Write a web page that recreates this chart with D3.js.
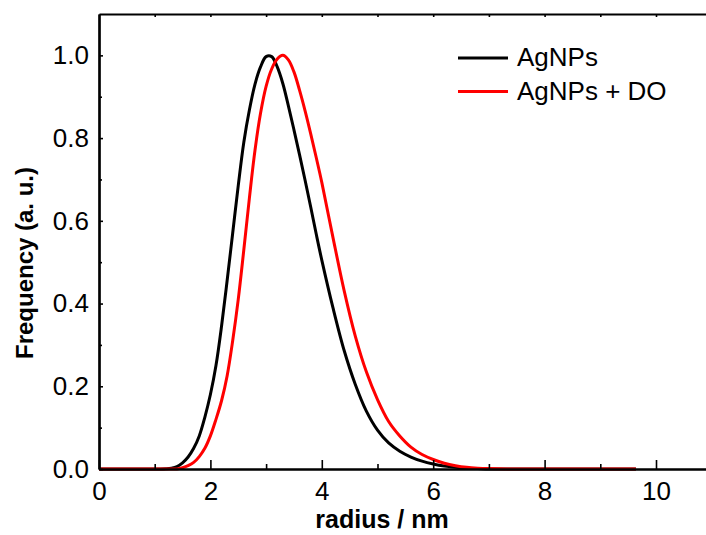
<!DOCTYPE html>
<html>
<head>
<meta charset="utf-8">
<script src="https://cdn.jsdelivr.net/npm/d3@7"></script>
<style>
  body { margin: 0; background: #fff; }
  svg text { font-family: "Liberation Sans", Arial, sans-serif; }
</style>
</head>
<body>
<div id="chart"></div>
<script>
// radius grid (nm)
const radius = [0, 0.5, 1.0, 1.1, 1.2, 1.3, 1.4, 1.5, 1.6, 1.7, 1.8, 1.9, 2.0, 2.1, 2.2, 2.3, 2.4, 2.5,
    2.6, 2.7, 2.8, 2.9, 3.0, 3.1, 3.2, 3.3, 3.4, 3.5, 3.6, 3.7, 3.8, 3.9, 4.0, 4.2, 4.4, 4.6, 4.8,
    5.0, 5.2, 5.4, 5.6, 5.8, 6.0, 6.2, 6.4, 6.6, 6.8, 7.0, 7.5, 8.0, 9.0, 9.64];

const agnps = [0, 0, 0, 0, 0.0005, 0.002, 0.006, 0.015, 0.029, 0.05, 0.08, 0.125, 0.18, 0.25, 0.345, 0.455, 0.57, 0.685,
    0.79, 0.868, 0.93, 0.972, 0.997, 0.997, 0.972, 0.932, 0.878, 0.82, 0.76, 0.698, 0.634, 0.568, 0.505, 0.39, 0.287, 0.205, 0.14,
    0.094, 0.063, 0.043, 0.029, 0.019, 0.012, 0.007, 0.004, 0.002, 0.001, 0, 0, 0, 0, 0];

const agnpsDo = [0, 0, 0, 0, 0, 0, 0, 0.003, 0.008, 0.016, 0.03, 0.05, 0.08, 0.12, 0.165, 0.225, 0.31, 0.41,
    0.53, 0.655, 0.77, 0.86, 0.925, 0.967, 0.991, 1.0, 0.989, 0.96, 0.916, 0.866, 0.811, 0.753, 0.693, 0.56, 0.432, 0.322, 0.235,
    0.168, 0.115, 0.08, 0.053, 0.035, 0.023, 0.014, 0.008, 0.004, 0.002, 0.001, 0, 0, 0, 0];

const xTicks = [0, 2, 4, 6, 8, 10];
const yTicks = [0.0, 0.2, 0.4, 0.6, 0.8, 1.0];
const seriesNames = ['AgNPs', 'AgNPs + DO'];
const seriesColors = ['#000000', '#ff0000'];

const width = 706, height = 535;
const margin = { left: 99, top: 14, bottom: 66 };

const svg = d3.select('#chart').append('svg')
    .attr('width', width)
    .attr('height', height);

const x = d3.scaleLinear().domain([0, 11]).range([margin.left, margin.left + 11 * 55.7]);
const y = d3.scaleLinear().domain([0, 1.1]).range([height - margin.bottom, margin.top]);

// curves
const line = d3.line()
    .x(d => x(d[0]))
    .y(d => y(d[1]))
    .curve(d3.curveCatmullRom.alpha(0.5));

[agnps, agnpsDo].forEach((vals, i) => {
    svg.append('path')
        .datum(radius.map((r, j) => [r, vals[j]]))
        .attr('fill', 'none')
        .attr('stroke', seriesColors[i])
        .attr('stroke-width', 3)
        .attr('d', line);
});

// axes: ticks point inward
const xMinor = d3.range(1, 11, 2);
const yMinor = d3.range(0.1, 1.1, 0.2);

function styleAxis(g) {
    g.select('.domain').attr('stroke-width', 2.2);
    g.selectAll('.tick line').attr('stroke-width', 1.6);
}

const xAxis = svg.append('g')
    .attr('transform', `translate(0,${y(0)})`)
    .call(d3.axisBottom(x).tickValues(xTicks).tickSizeInner(-9).tickSizeOuter(0).tickPadding(13).tickFormat(d3.format('d')))
    .call(styleAxis);
xAxis.selectAll('text').attr('font-size', 26).attr('fill', '#000');

svg.append('g')
    .attr('transform', `translate(0,${y(0)})`)
    .call(d3.axisBottom(x).tickValues(xMinor).tickSizeInner(-5).tickSizeOuter(0).tickFormat(''))
    .call(styleAxis);

const yAxis = svg.append('g')
    .attr('transform', `translate(${x(0)},0)`)
    .call(d3.axisLeft(y).tickValues(yTicks).tickSizeInner(-4).tickSizeOuter(0).tickPadding(10).tickFormat(d3.format('.1f')))
    .call(styleAxis);
yAxis.selectAll('text').attr('font-size', 26).attr('fill', '#000');

svg.append('g')
    .attr('transform', `translate(${x(0)},0)`)
    .call(d3.axisLeft(y).tickValues(yMinor).tickSizeInner(-3).tickSizeOuter(0).tickFormat(''))
    .call(styleAxis);

// top frame
svg.append('g')
    .attr('transform', `translate(0,${y(1.1)})`)
    .call(d3.axisTop(x).tickValues(d3.range(1, 11)).tickSizeInner(-3).tickSizeOuter(0).tickFormat(''))
    .call(styleAxis);

// axis titles
svg.append('text')
    .attr('x', 382)
    .attr('y', 528)
    .attr('text-anchor', 'middle')
    .attr('font-size', 25)
    .attr('font-weight', 'bold')
    .text('radius / nm');

svg.append('text')
    .attr('transform', `translate(33,263) rotate(-90)`)
    .attr('text-anchor', 'middle')
    .attr('font-size', 24)
    .attr('font-weight', 'bold')
    .text('Frequency (a. u.)');

// legend
const legend = svg.append('g').attr('transform', 'translate(458,58)');
seriesNames.forEach((name, i) => {
    legend.append('line')
        .attr('x1', 0).attr('x2', 50)
        .attr('y1', i * 33.5).attr('y2', i * 33.5)
        .attr('stroke', seriesColors[i])
        .attr('stroke-width', 3);
    legend.append('text')
        .attr('x', 59)
        .attr('y', i * 33.5 + 8)
        .attr('font-size', 26)
        .text(name);
});
</script>
</body>
</html>
